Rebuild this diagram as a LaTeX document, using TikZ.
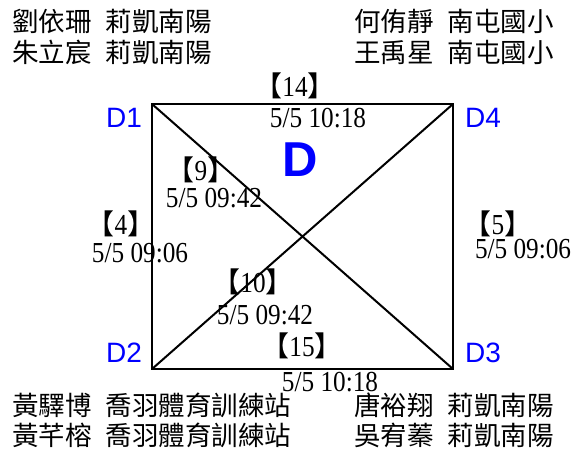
\documentclass[tikz,border=0pt]{standalone}
\usepackage{fontspec}
\setmainfont{Liberation Serif}
\newfontfamily\cjk{Noto Sans CJK TC}
\newfontfamily\numfont[FakeStretch=0.87]{Liberation Serif}
\newfontfamily\labfont{Liberation Sans}
\tikzset{
  namelbl/.style={anchor=west, inner sep=0pt, font=\cjk\fontsize{26.5}{26.5}\selectfont},
  brk/.style={anchor=center, inner sep=0pt, text height=20pt, text depth=0pt},
  tm/.style={anchor=base, inner sep=0pt, text height=19pt, text depth=0pt, font=\numfont\fontsize{29}{29}\selectfont},
  cornerlbl/.style={anchor=base, inner sep=0pt, text=blue, font=\labfont\fontsize{28}{28}\selectfont},
  biglbl/.style={anchor=base, inner sep=0pt, text=blue, font=\labfont\bfseries\fontsize{49}{49}\selectfont},
  edge/.style={line width=2pt, line join=miter}
}
\newcommand{\br}[1]{{\cjk\fontsize{28}{28}\selectfont 【}{\numfont\fontsize{29}{29}\selectfont #1}{\cjk\fontsize{28}{28}\selectfont 】}}
\begin{document}
\begin{tikzpicture}[x=1pt,y=-1pt]
\useasboundingbox (0,0) rectangle (572,448);
% corners
\coordinate (c1) at (152,104);
\coordinate (c4) at (453,104);
\coordinate (c3) at (453,369);
\coordinate (c2) at (152,369);
\draw[edge] (c1) -- (c4) -- (c3) -- (c2) -- cycle;
\draw[edge] (c1) -- (c3);
\draw[edge] (c4) -- (c2);
% names
\node[namelbl] (n1) at (12,21) {劉依珊\hspace{14pt}莉凱南陽};
\node[namelbl] (n2) at (12,52) {朱立宸\hspace{14pt}莉凱南陽};
\node[namelbl] (n3) at (354,21) {何侑靜\hspace{14pt}南屯國小};
\node[namelbl] (n4) at (354,52) {王禹星\hspace{14pt}南屯國小};
\node[namelbl] (n5) at (12,405) {黃驛博\hspace{14pt}喬羽體育訓練站};
\node[namelbl] (n6) at (12,435) {黃芊榕\hspace{14pt}喬羽體育訓練站};
\node[namelbl] (n7) at (354,405) {唐裕翔\hspace{14pt}莉凱南陽};
\node[namelbl] (n8) at (354,435) {吳宥蓁\hspace{14pt}莉凱南陽};
% corner labels
\node[cornerlbl] (d1) at (124,127) {D1};
\node[cornerlbl] (d4) at (483,127) {D4};
\node[cornerlbl] (d2) at (124,362) {D2};
\node[cornerlbl] (d3) at (483,362) {D3};
\node[biglbl] (dd) at (300,176) {D};
% match labels
\node[brk] (b14) at (295,86) {\br{14}};
\node[tm] (t14) at (318,127) {5/5 10:18};
\node[brk] (b9) at (201,170) {\br{9}};
\node[tm] (t9) at (214,207) {5/5 09:42};
\node[brk] (b4) at (121,224) {\br{4}};
\node[tm] (t4) at (140,262) {5/5 09:06};
\node[brk] (b5) at (498,224) {\br{5}};
\node[tm] (t5) at (523,258) {5/5 09:06};
\node[brk] (b10) at (253,282) {\br{10}};
\node[tm] (t10) at (265,324) {5/5 09:42};
\node[brk] (b15) at (302,346) {\br{15}};
\node[tm] (t15) at (330,391) {5/5 10:18};
\end{tikzpicture}
\end{document}
